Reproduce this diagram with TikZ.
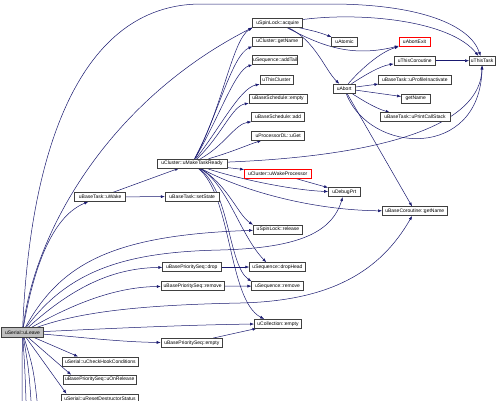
\documentclass[tikz,border=0pt]{standalone}
\usepackage{fontspec}
\setmainfont{Liberation Sans}
\usetikzlibrary{arrows.meta,backgrounds}
\definecolor{edgeblue}{HTML}{191970}
\definecolor{boxline}{HTML}{404040}
\definecolor{rootfill}{HTML}{BFBFBF}
\begin{document}
\begin{tikzpicture}[x=1pt,y=-1pt,
  fn/.style={draw=boxline, line width=0.5pt, fill=white, inner sep=0pt, minimum height=9pt, font=\fontsize{5}{6}\selectfont, text=black},
  fnred/.style={fn, draw=red},
  fnroot/.style={fn, fill=rootfill, minimum height=10pt},
  call/.style={draw=edgeblue, line width=0.5pt, -{Latex[length=4pt,width=3pt]}}]
\useasboundingbox (0,0) rectangle (502,400);
\clip (0,0) rectangle (502,400);
% nodes
\node[fnroot, minimum width=41.6pt] (root) at (22.5,332.5) {uSerial::uLeave};
\node[fn, minimum width=50pt] (acquire) at (277.7,22.8) {uSpinLock::acquire};
\node[fn, minimum width=49.3pt] (cgetname) at (277.3,41.7) {uCluster::getName};
\node[fn, minimum width=45pt] (addtail) at (275.2,60) {uSequence::addTail};
\node[fn, minimum width=33.3pt] (thiscluster) at (276.5,79.5) {uThisCluster};
\node[fn, minimum width=58pt] (bsempty) at (278,98.5) {uBaseSchedule::empty};
\node[fn, minimum width=53pt] (bsadd) at (278.2,117) {uBaseSchedule::add};
\node[fn, minimum width=53pt] (uget) at (278.2,135.8) {uProcessorDL::uGet};
\node[fn, minimum width=25.6pt] (atomic) at (344.5,41.7) {uAtomic};
\node[fnred, minimum width=31pt] (abortexit) at (414.5,42) {uAbortExit};
\node[fn, minimum width=41.7pt] (thiscoroutine) at (414.8,60.7) {uThisCoroutine};
\node[fn, minimum width=25.7pt] (thistask) at (482.2,60.7) {uThisTask};
\node[fn, minimum width=21.7pt] (abort) at (344.2,88.5) {uAbort};
\node[fn, minimum width=72.3pt] (profinact) at (414.8,79.3) {uBaseTask::uProfileInactivate};
\node[fn, minimum width=28.7pt] (getname) at (415.7,98.5) {getName};
\node[fn, minimum width=70pt] (printcs) at (415,117.2) {uBaseTask::uPrintCallStack};
\node[fn, minimum width=51pt] (wake) at (100.2,197) {uBaseTask::uWake};
\node[fn, minimum width=54.3pt] (setstate) at (192.2,196.4) {uBaseTask::setState};
\node[fn, minimum width=70pt] (mtr) at (192,163.5) {uCluster::uMakeTaskReady};
\node[fnred, minimum width=66.7pt] (wakeproc) at (277.7,173.4) {uCluster::uWakeProcessor};
\node[fn, minimum width=31.7pt] (debugprt) at (344.2,192.2) {uDebugPrt};
\node[fn, minimum width=65pt] (bcgetname) at (414.8,211.2) {uBaseCoroutine::getName};
\node[fn, minimum width=49.4pt] (release) at (278,229.5) {uSpinLock::release};
\node[fn, minimum width=56pt] (drophead) at (277.5,267) {uSequence::dropHead};
\node[fn, minimum width=58.3pt] (bpsdrop) at (191.8,267) {uBasePrioritySeq::drop};
\node[fn, minimum width=63.3pt] (bpsremove) at (192.7,286) {uBasePrioritySeq::remove};
\node[fn, minimum width=51.6pt] (seqremove) at (277.5,286.2) {uSequence::remove};
\node[fn, minimum width=47.4pt] (collempty) at (278,323.7) {uCollection::empty};
\node[fn, minimum width=61.7pt] (bpsempty) at (191.8,342.8) {uBasePrioritySeq::empty};
\node[fn, minimum width=76pt] (checkhook) at (100.3,361.3) {uSerial::uCheckHookConditions};
\node[fn, minimum width=72.7pt] (onrelease) at (99.7,379.5) {uBasePrioritySeq::uOnRelease};
\node[fn, minimum width=76.6pt] (resetds) at (100,398.5) {uSerial::uResetDestructorStatus};
\coordinate (b1) at (22,430);
\coordinate (b2) at (27,430);
\coordinate (b3) at (33,430);
\coordinate (b4) at (40,430);
\begin{scope}[on background layer]
\fill[white] (0,0) rectangle (502,400);
% edges from root
\draw[call] (root) .. controls (30,150) and (80,5) .. (200,4) -- (330,4) .. controls (420,4) and (470,25) .. (thistask);
\draw[call] (root) .. controls (35,230) and (110,100) .. (acquire.south west);
\draw[call] (root) .. controls (35,260) and (55,215) .. (wake);
\draw[call] (root) .. controls (60,265) and (110,235) .. (release);
\draw[call] (root) .. controls (70,268) and (130,252) .. (220,250) .. controls (300,248) and (332,232) .. (debugprt);
\draw[call] (root) .. controls (75,285) and (115,268) .. (bpsdrop);
\draw[call] (root) .. controls (80,300) and (120,287) .. (bpsremove);
\draw[call] (root) .. controls (80,312) and (140,305) .. (240,303) .. controls (330,301) and (380,272) .. (bcgetname);
\draw[call] (root) .. controls (100,329) and (180,325) .. (collempty);
\draw[call] (root) .. controls (80,337) and (120,342) .. (bpsempty);
\draw[call] (root) -- ([xshift=16pt]checkhook.north west);
\draw[call] (root) -- ([xshift=8pt]onrelease.north west);
\draw[call] (root) -- ([xshift=5pt]resetds.north west);
\draw[call] (root) .. controls (22,370) .. (b1);
\draw[call] (root) .. controls (25,370) .. (b2);
\draw[call] (root) .. controls (29,370) .. (b3);
\draw[call] (root) .. controls (34,370) .. (b4);
% edges from uMakeTaskReady
\draw[call] (mtr) .. controls (222,110) and (232,40) .. (acquire.south west);
\draw[call] (mtr) .. controls (218,115) and (232,55) .. (cgetname.south west);
\draw[call] (mtr) .. controls (218,120) and (235,70) .. (addtail.south west);
\draw[call] (mtr) .. controls (220,128) and (240,88) .. (thiscluster.south west);
\draw[call] (mtr) .. controls (222,135) and (232,106) .. (bsempty.south west);
\draw[call] (mtr) .. controls (225,145) and (235,124) .. (bsadd.south west);
\draw[call] (mtr) .. controls (232,152) and (250,144) .. ([xshift=10pt]uget.south west);
\draw[call] (mtr) .. controls (330,158) and (480,140) .. (thistask);
\draw[call] (mtr) -- (wakeproc);
\draw[call] (mtr) .. controls (235,178) and (290,190) .. (debugprt);
\draw[call] (mtr) .. controls (240,190) and (310,210) .. (bcgetname);
\draw[call] (mtr) .. controls (228,185) and (238,215) .. (release.north west);
\draw[call] (mtr) .. controls (228,185) and (240,235) .. ([xshift=17pt]drophead.north west);
\draw[call] (mtr) .. controls (230,190) and (228,265) .. (seqremove.north west);
\draw[call] (mtr) .. controls (232,195) and (228,300) .. ([xshift=10pt]collempty.north west);
% other edges
\draw[call] (wakeproc) -- (debugprt);
\draw[call] (wake) -- (mtr);
\draw[call] (wake) -- (setstate);
\draw[call] (bpsdrop) -- (drophead);
\draw[call] (bpsremove) -- (seqremove);
\draw[call] (bpsempty) -- (collempty);
\draw[call] (acquire) .. controls (318,32) .. (atomic);
\draw[call] (acquire) .. controls (320,45) and (350,58) .. (abortexit);
\draw[call] (acquire) .. controls (315,40) and (325,70) .. (abort);
\draw[call] (acquire) .. controls (360,12) and (450,20) .. (thistask);
\draw[call] (abort) .. controls (360,70) and (380,52) .. (abortexit);
\draw[call] (abort) .. controls (365,75) and (380,66) .. (thiscoroutine);
\draw[call] (abort) -- (profinact);
\draw[call] (abort) -- (getname);
\draw[call] (abort) .. controls (362,100) and (375,108) .. ([xshift=10pt]printcs.north west);
\draw[call] (abort) .. controls (370,155) and (480,160) .. (thistask);
\draw[call] (abort) -- (bcgetname);
\draw[call] (thiscoroutine) -- (thistask);
\end{scope}
\end{tikzpicture}
\end{document}
